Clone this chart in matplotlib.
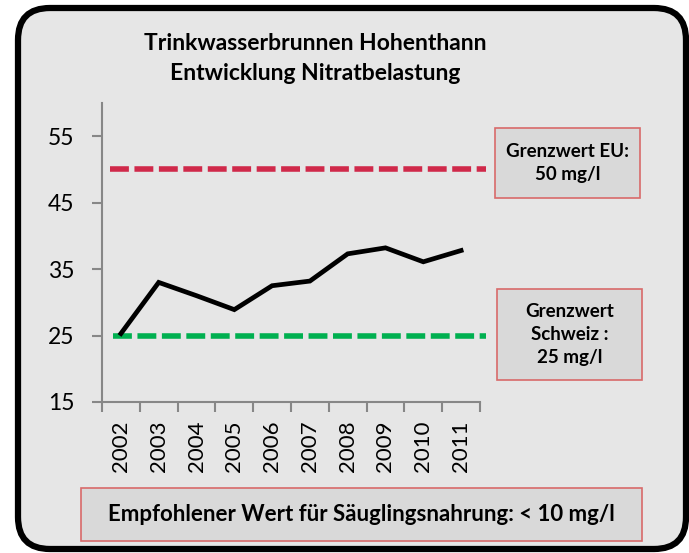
import matplotlib.pyplot as plt
from matplotlib.patches import FancyBboxPatch, Rectangle

# data
years = ['2002', '2003', '2004', '2005', '2006', '2007', '2008', '2009', '2010', '2011']
nitrat = [25.3, 33.0, 31.0, 28.9, 32.5, 33.2, 37.3, 38.2, 36.1, 37.8]
grenzwert_eu = 50
grenzwert_ch = 25
y_ticks = [15, 25, 35, 45, 55]

W, H = 689, 553
plt.rcParams['font.family'] = ['Lato', 'DejaVu Sans']

fig = plt.figure(figsize=(W / 100, H / 100), dpi=100)
fig.patch.set_facecolor('white')


def fx(x):
    return x / W


def fy(y):
    return 1 - y / H


# rounded grey frame, drawn in inches so the corners stay round
frame = FancyBboxPatch((18 / 100, 4 / 100), 668 / 100, 541 / 100,
                       boxstyle='round,pad=0,rounding_size=0.32',
                       transform=fig.dpi_scale_trans,
                       facecolor='#e6e6e6', edgecolor='black', linewidth=4.5,
                       zorder=0)
fig.patches.append(frame)

ax = fig.add_axes([fx(102), fy(402), fx(480) - fx(102), fy(103) - fy(402)])
ax.set_facecolor('none')
ax.set_zorder(5)

x = list(range(len(years)))
ax.plot(x, nitrat, color='black', linewidth=3.4, solid_joinstyle='miter', zorder=3)
ax.plot([-0.3, 9.65], [grenzwert_eu] * 2, color='#d0294a', linewidth=4,
        dashes=(3.4, 1.0), clip_on=False, zorder=2)
ax.plot([-0.2, 9.65], [grenzwert_ch] * 2, color='#00b050', linewidth=4,
        dashes=(3.4, 1.0), clip_on=False, zorder=2)

ax.set_xlim(-0.5, 9.5)
ax.set_ylim(15, 60)
ax.set_yticks(y_ticks)
ax.set_yticklabels([str(v) for v in y_ticks], fontsize=16.5)
ax.set_xticks(x)
ax.set_xticklabels(years, rotation=90, fontsize=16)
ax.set_xticks([i - 0.5 for i in range(len(years) + 1)], minor=True)
ax.tick_params(axis='x', which='major', length=0, pad=13)
ax.tick_params(axis='x', which='minor', length=7, width=1.5, color='#878787')
ax.tick_params(axis='y', length=7, width=1.5, color='#878787', pad=13)

for side in ['top', 'right']:
    ax.spines[side].set_visible(False)
for side in ['left', 'bottom']:
    ax.spines[side].set_color('#878787')
    ax.spines[side].set_linewidth(1.5)

# title
fig.text(fx(315), fy(43), 'Trinkwasserbrunnen Hohenthann', ha='center', va='center',
         fontsize=16.5, fontweight='bold')
fig.text(fx(315), fy(73), 'Entwicklung Nitratbelastung', ha='center', va='center',
         fontsize=16.5, fontweight='bold')


def note_box(x0, y0, x1, y1, lines, size):
    fig.patches.append(Rectangle((fx(x0), fy(y1)), fx(x1) - fx(x0), fy(y0) - fy(y1),
                                 transform=fig.transFigure, facecolor='#d9d9d9',
                                 edgecolor='#d86a6a', linewidth=1.2, zorder=1))
    fig.text(fx((x0 + x1) / 2), fy((y0 + y1) / 2), lines, ha='center', va='center',
             fontsize=size, fontweight='bold', linespacing=1.4)


note_box(495, 128, 640, 198, 'Grenzwert EU:\n50 mg/l', 13.5)
note_box(497, 289, 642, 380, 'Grenzwert\nSchweiz :\n25 mg/l', 13.5)
note_box(81, 488, 642, 541, 'Empfohlener Wert für Säuglingsnahrung: < 10 mg/l', 16)

fig.savefig('out.png', dpi=100)
